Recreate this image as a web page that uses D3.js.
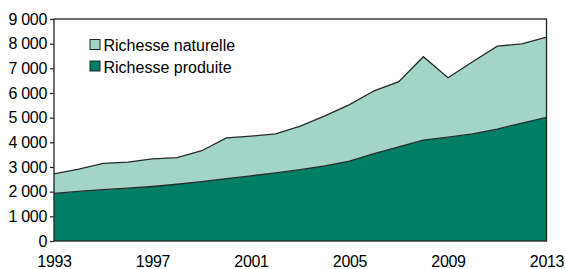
<!DOCTYPE html>
<html>
<head>
<meta charset="utf-8">
<script src="https://cdn.jsdelivr.net/npm/d3@7"></script>
<style>
  html, body { margin: 0; padding: 0; background: #fff; }
  svg { display: block; font-family: "Liberation Sans", Arial, sans-serif; }
</style>
</head>
<body>
<div id="chart"></div>
<script>
const years = [1993,1994,1995,1996,1997,1998,1999,2000,2001,2002,2003,2004,2005,2006,2007,2008,2009,2010,2011,2012,2013];
const produite = [1930,2010,2080,2140,2210,2300,2410,2530,2640,2760,2890,3050,3240,3540,3820,4090,4210,4340,4540,4780,5010];
const naturelle = [790,900,1070,1060,1120,1080,1250,1650,1610,1580,1770,2020,2290,2550,2640,3380,2410,2930,3360,3210,3260];
const seriesNames = ["Richesse produite", "Richesse naturelle"];
const xTicks = [1993,1997,2001,2005,2009,2013];
const yTicks = [0,1000,2000,3000,4000,5000,6000,7000,8000,9000];

const W = 565, H = 269;
const mLeft = 54, mRight = 546.5, mTop = 19, mBottom = 241;
const colors = { "Richesse produite": "#007f66", "Richesse naturelle": "#a2d4c7" };

const svg = d3.select("#chart").append("svg").attr("width", W).attr("height", H);

const x = d3.scaleLinear().domain([1993, 2013]).range([mLeft, mRight]);
const y = d3.scaleLinear().domain([0, 9000]).range([mBottom, mTop]);

const rows = years.map((yr, i) => ({ year: yr, "Richesse produite": produite[i], "Richesse naturelle": naturelle[i] }));
const stack = d3.stack().keys(seriesNames);
const layers = stack(rows);

const area = d3.area().x(d => x(d.data.year)).y0(d => y(d[0])).y1(d => y(d[1]));
const line = d3.line().x(d => x(d.data.year)).y(d => y(d[1]));

svg.selectAll("path.area").data(layers).enter().append("path")
  .attr("class", "area")
  .attr("d", area)
  .attr("fill", d => colors[d.key]);

svg.selectAll("path.topline").data(layers).enter().append("path")
  .attr("class", "topline")
  .attr("d", line)
  .attr("fill", "none")
  .attr("stroke", "#2a2a2a")
  .attr("stroke-width", 1.3);

// frame
svg.append("rect")
  .attr("x", mLeft).attr("y", mTop)
  .attr("width", mRight - mLeft).attr("height", mBottom - mTop)
  .attr("fill", "none").attr("stroke", "#222").attr("stroke-width", 1.3);

const fr = d3.formatLocale({ decimal: ",", thousands: "\u00a0", grouping: [3], currency: ["", " €"] });
const fmt = fr.format(",d");

const yAxis = d3.axisLeft(y).tickValues(yTicks).tickSize(4).tickPadding(3).tickFormat(fmt);
const gy = svg.append("g").attr("transform", `translate(${mLeft},0)`).call(yAxis);
gy.select(".domain").remove();
gy.selectAll(".tick line").attr("stroke", "#222").attr("stroke-width", 1.2);
gy.selectAll(".tick text").attr("fill", "#000").style("font-size", "16px")
  .style("font-family", "'Liberation Sans', Arial, sans-serif").style("letter-spacing", "-0.3px");

const xAxis = d3.axisBottom(x).tickValues(xTicks).tickSize(0).tickPadding(15).tickFormat(d3.format("d"));
const gx = svg.append("g").attr("transform", `translate(0,${mBottom})`).call(xAxis);
gx.select(".domain").remove();
gx.selectAll(".tick text").attr("fill", "#000").style("font-size", "16px")
  .style("font-family", "'Liberation Sans', Arial, sans-serif").style("letter-spacing", "-0.3px");

// legend
const legendItems = ["Richesse naturelle", "Richesse produite"];
const lg = svg.append("g");
legendItems.forEach((name, i) => {
  const yy = 39.5 + i * 21.5;
  lg.append("rect").attr("x", 90).attr("y", yy).attr("width", 10).attr("height", 10)
    .attr("fill", colors[name]).attr("stroke", "#222").attr("stroke-width", 1);
  lg.append("text").attr("x", 103.5).attr("y", yy + 11.5)
    .attr("fill", "#000").style("font-size", "16px").text(name);
});
</script>
</body>
</html>
